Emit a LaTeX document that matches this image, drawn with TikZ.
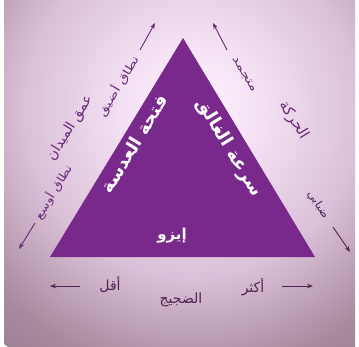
\documentclass[tikz,border=0pt]{standalone}
\usepackage{fontspec}
\usepackage{graphicx}
\newfontfamily\arabicfont[Script=Arabic]{DejaVu Sans}
\TeXXeTstate=1
\usetikzlibrary{arrows.meta}
\newcommand{\artext}[1]{\beginR #1\endR}
\definecolor{tri}{RGB}{121,40,139}
\definecolor{lbl}{RGB}{105,40,120}
\definecolor{lbldark}{RGB}{78,36,84}
\definecolor{bga}{RGB}{253,244,253}
\definecolor{bgb}{RGB}{246,228,246}
\definecolor{bgc}{RGB}{218,192,216}
\definecolor{bgd}{RGB}{168,138,158}
\definecolor{bge}{RGB}{150,122,140}
\definecolor{bgf}{RGB}{138,112,128}
\pgfdeclareradialshading{bgshade}{\pgfpoint{0bp}{0bp}}{color(0bp)=(bga); color(5bp)=(bgb); color(14bp)=(bgc); color(22bp)=(bgd); color(28bp)=(bge); color(50bp)=(bgf)}
\tikzset{
  intext/.style={font=\arabicfont\bfseries\fontsize{18}{21}\selectfont, text=white, inner sep=0pt},
  outlbl/.style={font=\arabicfont\fontsize{14}{16}\selectfont, text=lbl, inner sep=0pt},
  smalllbl/.style={font=\arabicfont\fontsize{11}{13}\selectfont, text=lbl, inner sep=0pt},
  arr/.style={draw=lbl, line width=0.9pt, -{Stealth[length=6pt,width=4.5pt]}},
}
\begin{document}
\begin{tikzpicture}[x=1pt,y=-1pt]
\useasboundingbox (0,0) rectangle (359,346);
\fill[white] (0,0) rectangle (359,346);
\begin{scope}
  \clip (4,0) rectangle (355,346);
  \shade[shading=bgshade] (192,110) circle (300);
\end{scope}
% triangle
\coordinate (A) at (183,38);
\coordinate (B) at (50,257);
\coordinate (C) at (315,257);
\fill[tri] (A) -- (B) -- (C) -- cycle;
% inner labels
\node[intext, rotate=58.6] (ap) at (134,144) {\artext{فتحة العدسة}};
\node[intext, rotate=-58.6] (sh) at (229,148) {\artext{سرعة الغالق}};
\node[intext, font=\arabicfont\bfseries\fontsize{15}{18}\selectfont] (iso) at (172,236) {\artext{إيزو}};
% left side
\node[outlbl, rotate=58.6] (dof) at (70,128) {\artext{عمق الميدان}};
\node[smalllbl, rotate=58.6] (narrow) at (118,86) {\scalebox{1.3}[1]{\artext{نطاق أضيق}}};
\coordinate (n1) at (140,50);
\coordinate (n2) at (155,23);
\draw[arr] (n1) -- (n2);
\node[smalllbl, rotate=58.6] (wide) at (53,192) {\scalebox{1.2}[1]{\artext{نطاق أوسع}}};
\coordinate (w1) at (35,223);
\coordinate (w2) at (19,249);
\draw[arr] (w1) -- (w2);
% right side
\node[outlbl, rotate=-58.6, font=\arabicfont\fontsize{15}{17}\selectfont] (motion) at (294,120) {\artext{الحركة}};
\node[smalllbl, rotate=-58.6] (frozen) at (244,75) {\scalebox{1.4}[1]{\artext{متجمد}}};
\coordinate (f1) at (227,50);
\coordinate (f2) at (213,23);
\draw[arr] (f1) -- (f2);
\node[smalllbl, rotate=-58.6, text=lbldark] (blur) at (318,205) {\scalebox{1.1}[1]{\artext{ضبابي}}};
\coordinate (b1) at (333,227);
\coordinate (b2) at (350,252);
\draw[arr, draw=lbldark] (b1) -- (b2);
% bottom
\node[outlbl, text=lbldark] (noise) at (181,300) {\artext{الضجيج}};
\node[outlbl, text=lbldark, font=\arabicfont\fontsize{14}{16}\selectfont] (less) at (110,285) {\artext{أقل}};
\coordinate (l1) at (80,286);
\coordinate (l2) at (50,286);
\draw[arr, draw=lbldark] (l1) -- (l2);
\node[outlbl, text=lbldark, font=\arabicfont\fontsize{14}{16}\selectfont] (more) at (253,287) {\artext{أكثر}};
\coordinate (m1) at (282,286);
\coordinate (m2) at (313,286);
\draw[arr, draw=lbldark] (m1) -- (m2);
\end{tikzpicture}
\end{document}
